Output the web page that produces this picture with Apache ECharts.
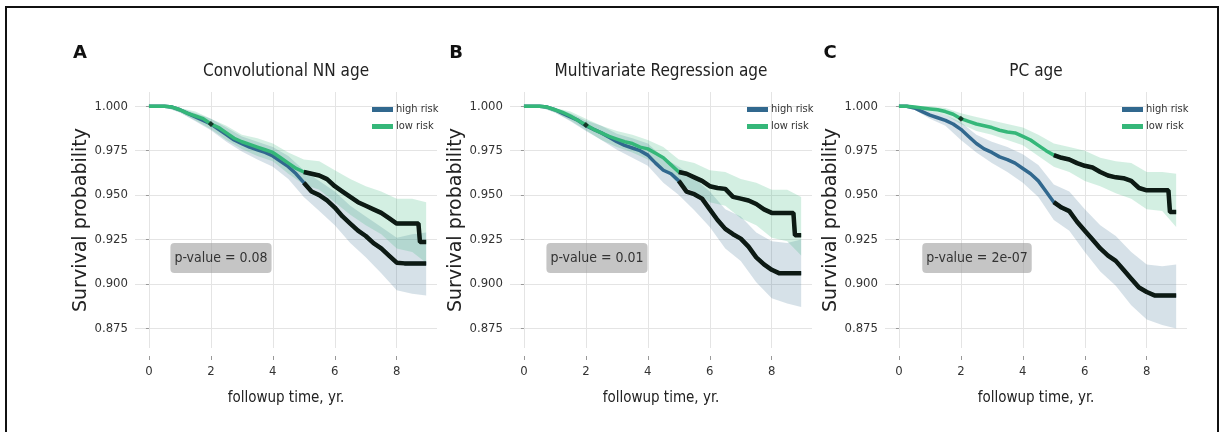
<!DOCTYPE html>
<html>
<head>
<meta charset="utf-8">
<title>Survival curves by predicted age</title>
<script src="https://cdn.jsdelivr.net/npm/echarts@6/dist/echarts.min.js"></script>
<style>
  html, body { margin: 0; padding: 0; background: #fff; }
  #main { width: 1222px; height: 432px; }
</style>
</head>
<body>
<div id="main"></div>
<script>
// --- data ---
const times = [0, 0.25, 0.5, 0.75, 1, 1.25, 1.5, 1.75, 2, 2.25, 2.5, 2.75, 3, 3.25, 3.5, 3.75, 4, 4.25, 4.5, 4.75,
  5, 5.25, 5.5, 5.75, 6, 6.25, 6.5, 6.75, 7, 7.25, 7.5, 7.75, 8, 8.25, 8.5, 8.7, 8.75, 8.95]
const bandTimes = [0, 0.5, 1, 1.5, 2, 2.5, 3, 3.5, 4, 4.5, 5, 5.5, 6, 6.5, 7, 7.5, 8, 8.5, 8.95]

const panelLetters = ['A', 'B', 'C']
const panelTitles = ['Convolutional NN age', 'Multivariate Regression age', 'PC age']
const pValues = ['p-value = 0.08', 'p-value = 0.01', 'p-value = 2e-07']
const groupNames = ['high risk', 'low risk']
const xTicks = [0, 2, 4, 6, 8]
const yTicks = [0.875, 0.9, 0.925, 0.95, 0.975, 1.0]

// A: Convolutional NN age
const highA = [1, 1, 1, 0.9995, 0.998, 0.996, 0.994, 0.992, 0.990, 0.987, 0.984, 0.981, 0.979, 0.977, 0.9755, 0.974, 0.972, 0.969, 0.966, 0.962,
  0.957, 0.952, 0.950, 0.947, 0.943, 0.938, 0.934, 0.930, 0.927, 0.923, 0.920, 0.916, 0.912, 0.9116, 0.9116, 0.9116, 0.9116, 0.9116]
const lowA = [1, 1, 1, 0.9995, 0.998, 0.996, 0.9945, 0.993, 0.990, 0.988, 0.985, 0.982, 0.980, 0.9785, 0.977, 0.9755, 0.974, 0.971, 0.968, 0.965,
  0.963, 0.962, 0.961, 0.959, 0.955, 0.952, 0.949, 0.946, 0.944, 0.942, 0.940, 0.937, 0.934, 0.934, 0.934, 0.934, 0.9236, 0.9236]
const highLoA = [1, 0.9995, 0.9965, 0.9915, 0.9865, 0.980, 0.9745, 0.970, 0.966, 0.959, 0.949, 0.941, 0.933, 0.923, 0.915, 0.906, 0.8965, 0.8945, 0.8936]
const highUpA = [1, 1, 0.999, 0.996, 0.993, 0.988, 0.983, 0.980, 0.977, 0.972, 0.964, 0.958, 0.952, 0.944, 0.938, 0.932, 0.926, 0.928, 0.929]
const lowLoA = [1, 0.9995, 0.9965, 0.992, 0.987, 0.981, 0.976, 0.972, 0.969, 0.962, 0.956, 0.953, 0.946, 0.939, 0.933, 0.928, 0.920, 0.918, 0.912]
const lowUpA = [1, 1, 0.999, 0.997, 0.993, 0.989, 0.984, 0.982, 0.979, 0.974, 0.970, 0.969, 0.964, 0.959, 0.955, 0.952, 0.948, 0.948, 0.946]
const censorA = [[2.0, 0.990]]

// B: Multivariate Regression age
const highB = [1, 1, 1, 0.9995, 0.998, 0.996, 0.994, 0.992, 0.989, 0.987, 0.985, 0.9825, 0.980, 0.978, 0.9765, 0.975, 0.9725, 0.968, 0.964, 0.962,
  0.958, 0.952, 0.9505, 0.948, 0.942, 0.936, 0.931, 0.928, 0.9255, 0.921, 0.915, 0.911, 0.908, 0.906, 0.906, 0.906, 0.906, 0.906]
const lowB = [1, 1, 1, 0.9995, 0.998, 0.9965, 0.9945, 0.992, 0.9895, 0.987, 0.985, 0.983, 0.9815, 0.980, 0.979, 0.977, 0.976, 0.9735, 0.971, 0.967,
  0.963, 0.962, 0.960, 0.958, 0.955, 0.954, 0.9535, 0.949, 0.948, 0.947, 0.945, 0.942, 0.940, 0.940, 0.940, 0.940, 0.9274, 0.9274]
const highLoB = [1, 0.9995, 0.9965, 0.9915, 0.986, 0.981, 0.9755, 0.971, 0.9665, 0.957, 0.950, 0.9415, 0.932, 0.920, 0.913, 0.901, 0.892, 0.889, 0.887]
const highUpB = [1, 1, 0.999, 0.996, 0.992, 0.989, 0.9845, 0.982, 0.979, 0.971, 0.966, 0.9595, 0.952, 0.942, 0.938, 0.929, 0.924, 0.923, 0.925]
const lowLoB = [1, 0.9995, 0.9965, 0.992, 0.9865, 0.981, 0.977, 0.974, 0.970, 0.965, 0.956, 0.952, 0.946, 0.944, 0.937, 0.933, 0.926, 0.924, 0.916]
const lowUpB = [1, 1, 0.999, 0.997, 0.993, 0.989, 0.986, 0.984, 0.981, 0.977, 0.970, 0.968, 0.964, 0.963, 0.959, 0.957, 0.953, 0.953, 0.949]
const censorB = [[2.0, 0.9895]]

// C: PC age
const highC = [1, 1, 0.999, 0.997, 0.995, 0.9935, 0.992, 0.990, 0.987, 0.983, 0.979, 0.976, 0.974, 0.9715, 0.970, 0.968, 0.965, 0.962, 0.958, 0.952,
  0.946, 0.943, 0.941, 0.935, 0.930, 0.925, 0.920, 0.916, 0.913, 0.908, 0.903, 0.898, 0.8955, 0.8936, 0.8936, 0.8936, 0.8936, 0.8936]
const lowC = [1, 1, 0.9995, 0.999, 0.9985, 0.998, 0.997, 0.9955, 0.993, 0.9915, 0.990, 0.989, 0.988, 0.9865, 0.9855, 0.985, 0.983, 0.981, 0.978, 0.975,
  0.9725, 0.971, 0.970, 0.968, 0.9665, 0.9655, 0.963, 0.961, 0.960, 0.9595, 0.958, 0.954, 0.9527, 0.9527, 0.9527, 0.9527, 0.9405, 0.9405]
const highLoC = [1, 0.998, 0.993, 0.989, 0.981, 0.974, 0.968, 0.963, 0.957, 0.949, 0.936, 0.930, 0.918, 0.907, 0.899, 0.888, 0.880, 0.877, 0.875]
const highUpC = [1, 1, 0.997, 0.995, 0.991, 0.984, 0.980, 0.977, 0.973, 0.967, 0.956, 0.952, 0.942, 0.933, 0.927, 0.918, 0.911, 0.910, 0.911]
const lowLoC = [1, 0.999, 0.997, 0.995, 0.990, 0.986, 0.984, 0.981, 0.978, 0.972, 0.966, 0.963, 0.958, 0.955, 0.951, 0.948, 0.942, 0.941, 0.932]
const lowUpC = [1, 1, 1, 0.999, 0.996, 0.994, 0.992, 0.990, 0.988, 0.984, 0.979, 0.977, 0.975, 0.971, 0.969, 0.968, 0.963, 0.963, 0.962]
const censorC = [[2.0, 0.993]]

// --- styling ---
const FONT = "'DejaVu Sans Condensed', 'DejaVu Sans', sans-serif"
const HIGH_COLOR = '#31688e'
const LOW_COLOR = '#35b779'
const HIGH_BAND = 'rgba(49, 104, 142, 0.2)'
const LOW_BAND = 'rgba(53, 183, 121, 0.22)'
const CENSOR_COLOR = '#0d1a14'
const CENSOR_FROM = 5 // dense censoring after ~5 yr makes the curves look black
const gridLefts = [135, 510, 885]
const GRID_TOP = 92
const GRID_W = 302
const GRID_H = 256

const panels = [
  {high: highA, low: lowA, highLo: highLoA, highUp: highUpA, lowLo: lowLoA, lowUp: lowUpA, censor: censorA},
  {high: highB, low: lowB, highLo: highLoB, highUp: highUpB, lowLo: lowLoB, lowUp: lowUpB, censor: censorB},
  {high: highC, low: lowC, highLo: highLoC, highUp: highUpC, lowLo: lowLoC, lowUp: lowUpC, censor: censorC}
]

const pairs = (xs, ys) => xs.map((x, i) => [x, ys[i]])
const bandData = (lo, up) => bandTimes.map((t, i) => [t, lo[i], up[i]])

// confidence band polygon, built from the data through the axis scales
function bandRender(color) {
  return function (params, api) {
    if (params.dataIndexInside !== 0) return null
    const n = params.dataInsideLength
    const top = []
    const bottom = []
    for (let i = 0; i < n; i++) {
      const t = api.value(0, i)
      top.push(api.coord([t, api.value(2, i)]))
      bottom.push(api.coord([t, api.value(1, i)]))
    }
    return {
      type: 'polygon',
      shape: {points: top.concat(bottom.reverse())},
      style: {fill: color, stroke: null},
      silent: true
    }
  }
}

const grids = [], xAxes = [], yAxes = [], series = [], legends = [], graphics = []

panels.forEach((p, i) => {
  const left = gridLefts[i]
  grids.push({left: left, top: GRID_TOP, width: GRID_W, height: GRID_H})
  xAxes.push({
    gridIndex: i,
    type: 'value',
    min: -0.45,
    max: 9.3,
    offset: 8,
    axisLine: {show: false},
    axisTick: {show: true, length: 4, customValues: xTicks, lineStyle: {color: '#999'}},
    axisLabel: {customValues: xTicks, margin: 9, color: '#333', fontSize: 13, fontFamily: FONT},
    splitLine: {show: true, lineStyle: {color: '#e4e4e4', width: 1}},
    name: 'followup time, yr.',
    nameLocation: 'middle',
    nameGap: 35,
    nameTextStyle: {fontSize: 15, fontFamily: FONT, color: '#222'}
  })
  yAxes.push({
    gridIndex: i,
    type: 'value',
    min: 0.864,
    max: 1.008,
    axisLine: {show: false},
    axisTick: {show: true, length: 3, customValues: yTicks, lineStyle: {color: '#999'}},
    axisLabel: {
      customValues: yTicks, margin: 7, color: '#333', fontSize: 13, fontFamily: FONT,
      formatter: v => v.toFixed(3)
    },
    splitLine: {show: true, lineStyle: {color: '#e4e4e4', width: 1}},
    name: 'Survival probability',
    nameLocation: 'middle',
    nameGap: 41,
    nameTextStyle: {fontSize: 19, fontFamily: 'DejaVu Sans', color: '#222'}
  })

  const ax = {xAxisIndex: i, yAxisIndex: i}
  series.push(
    Object.assign({
      type: 'custom', name: 'high band', renderItem: bandRender(HIGH_BAND),
      encode: {x: 0, y: [1, 2]}, data: bandData(p.highLo, p.highUp), z: 1, silent: true
    }, ax),
    Object.assign({
      type: 'custom', name: 'low band', renderItem: bandRender(LOW_BAND),
      encode: {x: 0, y: [1, 2]}, data: bandData(p.lowLo, p.lowUp), z: 1, silent: true
    }, ax),
    Object.assign({
      type: 'line', name: groupNames[0], data: pairs(times, p.high),
      showSymbol: false, symbol: 'none', color: HIGH_COLOR,
      lineStyle: {color: HIGH_COLOR, width: 3.5}, z: 3, silent: true
    }, ax),
    Object.assign({
      type: 'line', name: groupNames[1], data: pairs(times, p.low),
      showSymbol: false, symbol: 'none', color: LOW_COLOR,
      lineStyle: {color: LOW_COLOR, width: 3.5}, z: 4, silent: true
    }, ax),
    Object.assign({
      type: 'line', name: 'high censored', symbol: 'none',
      data: pairs(times, p.high).filter(d => d[0] >= CENSOR_FROM),
      lineStyle: {color: CENSOR_COLOR, width: 4.5}, z: 5, silent: true
    }, ax),
    Object.assign({
      type: 'line', name: 'low censored', symbol: 'none',
      data: pairs(times, p.low).filter(d => d[0] >= CENSOR_FROM),
      lineStyle: {color: CENSOR_COLOR, width: 4.5}, z: 5, silent: true
    }, ax),
    Object.assign({
      type: 'scatter', name: 'censor mark', data: p.censor, symbol: 'diamond', symbolSize: 6,
      itemStyle: {color: CENSOR_COLOR}, z: 6, silent: true
    }, ax)
  )

  legends.push({
    data: groupNames,
    orient: 'vertical',
    left: left + 232,
    top: 99,
    itemWidth: 21,
    itemHeight: 5,
    itemGap: 6,
    icon: 'rect',
    selectedMode: false,
    textStyle: {fontSize: 11, fontFamily: FONT, color: '#333', padding: [0, 0, 0, -2]}
  })

  const cx = left + GRID_W / 2
  graphics.push(
    {
      type: 'text', x: cx, y: 72,
      style: {text: panelTitles[i], fontSize: 17, fontFamily: FONT, fill: '#222', align: 'center', verticalAlign: 'middle'}
    },
    {
      type: 'text', x: [80, 456, 830][i], y: 53,
      style: {text: panelLetters[i], fontSize: 18, fontWeight: 'bold', fontFamily: 'DejaVu Sans', fill: '#111', align: 'center', verticalAlign: 'middle'}
    },
    {
      type: 'text', x: left + [86, 87, 92][i], y: 258, z: 10,
      style: {
        text: pValues[i], fontSize: 14, fontFamily: FONT, fill: '#333', align: 'center', verticalAlign: 'middle',
        backgroundColor: 'rgba(150,150,150,0.55)', padding: [8, 4], borderRadius: 4
      }
    }
  )
})

graphics.push({
  type: 'rect', shape: {x: 6, y: 7, width: 1212, height: 440},
  style: {fill: null, stroke: '#111', lineWidth: 2}, silent: true, z: 20
})

const chart = echarts.init(document.getElementById('main'), null, {renderer: 'canvas'})
chart.setOption({
  animation: false,
  backgroundColor: '#fff',
  grid: grids,
  xAxis: xAxes,
  yAxis: yAxes,
  legend: legends,
  series: series,
  graphic: graphics
})
</script>
</body>
</html>
